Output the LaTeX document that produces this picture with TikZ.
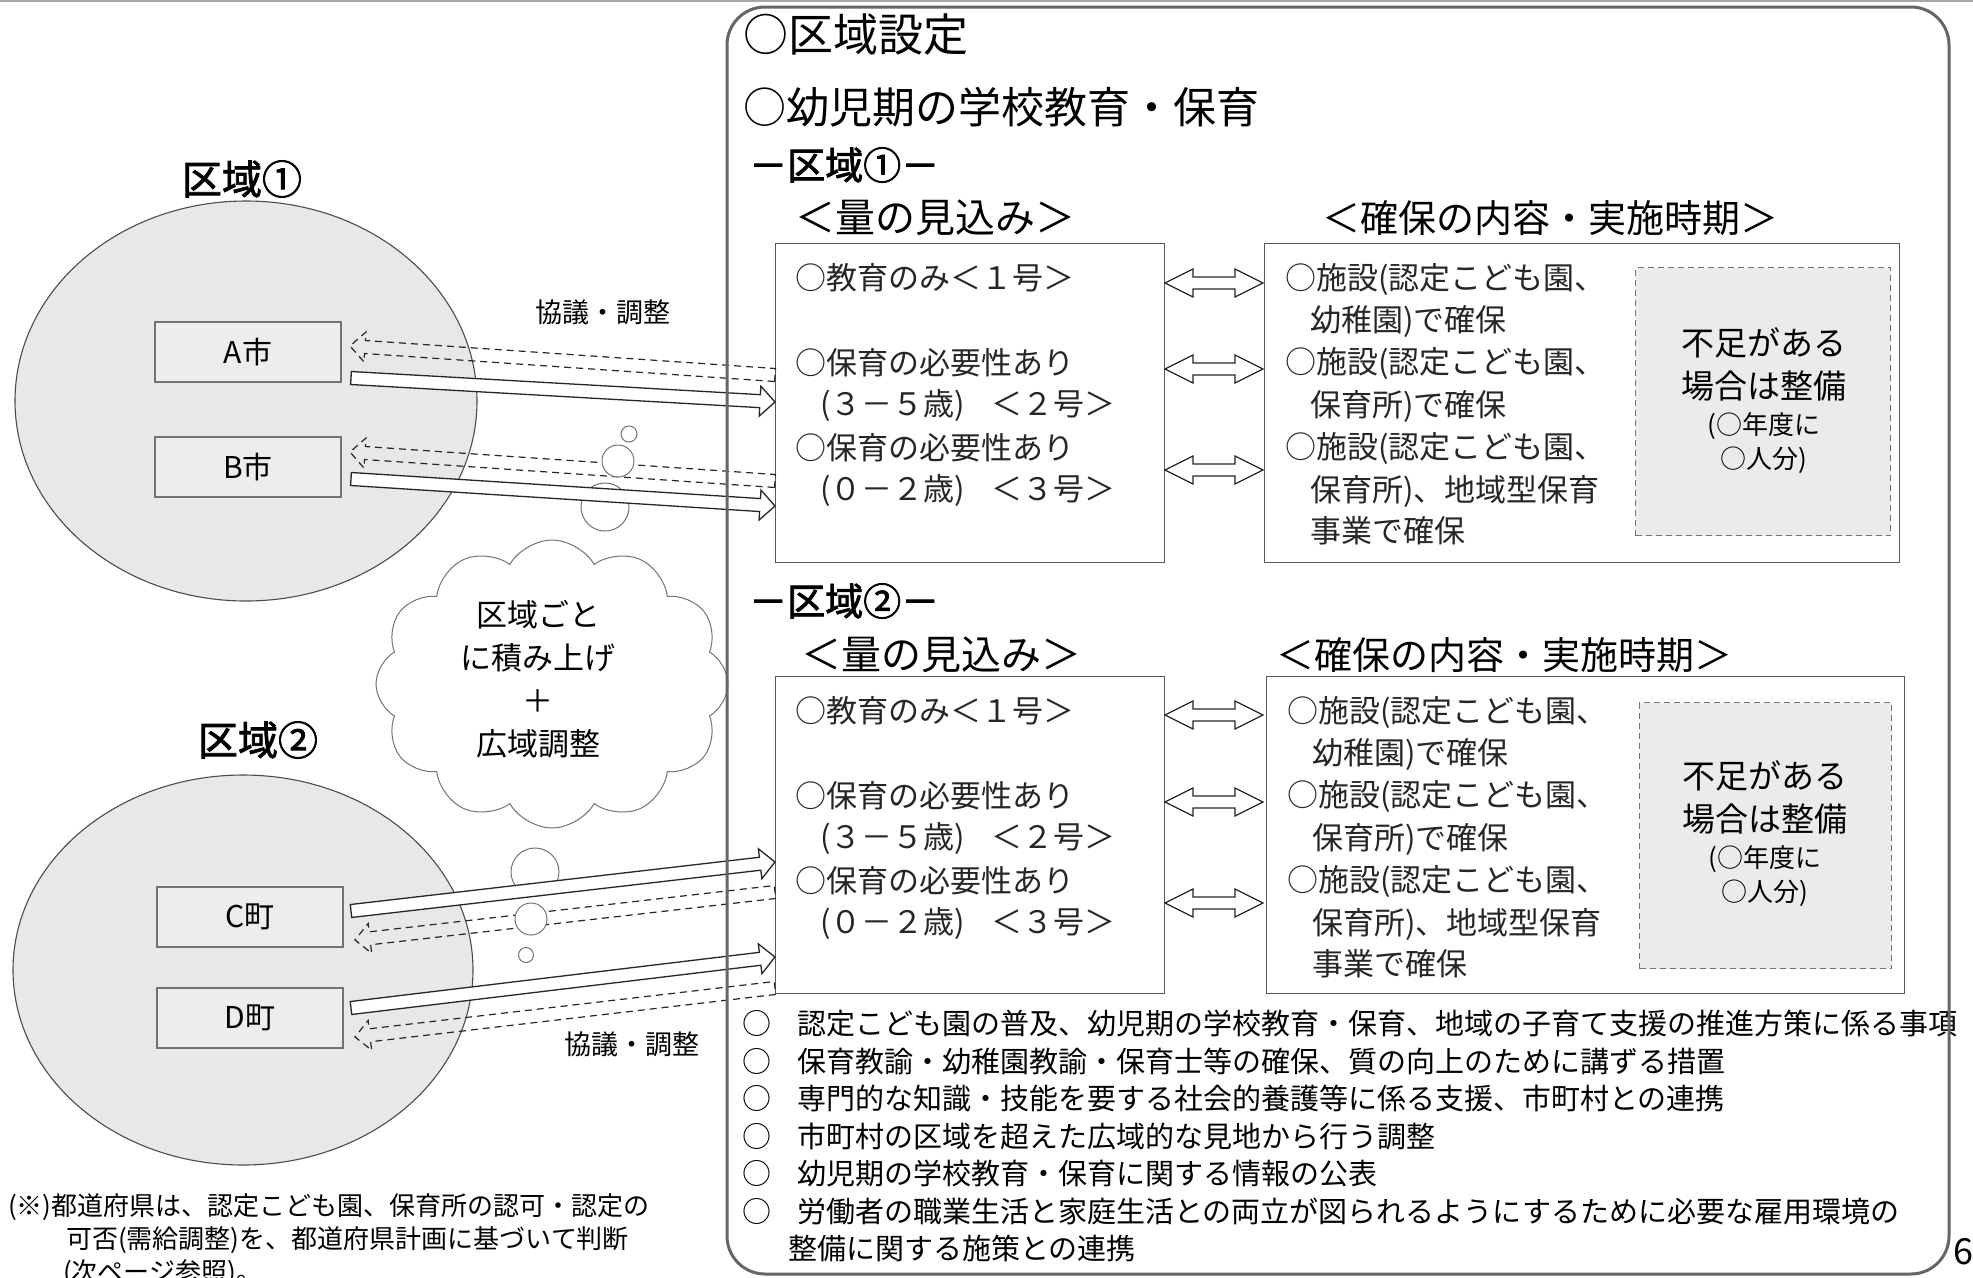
\documentclass[tikz,border=0pt]{standalone}
\usepackage{fontspec}
\setmainfont{Noto Sans CJK JP}[AutoFakeBold=2]
\usetikzlibrary{calc,shapes.geometric,shapes.symbols}
\newcommand\blkarrow[3]{%
  \coordinate (ba-r) at ($(#3)!15pt!(#2)$);
  \path[#1] ($(#2)!6.5pt!90:(#3)$) -- ($(ba-r)!6.5pt!90:(#3)$) -- ($(ba-r)!15pt!90:(#3)$) -- (#3)
    -- ($(ba-r)!15pt!-90:(#3)$) -- ($(ba-r)!6.5pt!-90:(#3)$) -- ($(#2)!6.5pt!-90:(#3)$) -- cycle;}
\newcommand\twoway[1]{%
  \path[solidarrow] (1165,#1) -- (1193,#1-14) -- (1193,#1-6) -- (1235,#1-6) -- (1235,#1-14) -- (1263,#1)
    -- (1235,#1+14) -- (1235,#1+6) -- (1193,#1+6) -- (1193,#1+14) -- cycle;}
\begin{document}
\begin{tikzpicture}[x=1pt,y=-1pt,
  every node/.style={inner sep=0pt},
  region/.style={ellipse, draw=black!70, line width=1.1pt, fill=black!9},
  citybox/.style={draw=black!55, line width=1.3pt, fill=black!7, minimum width=186pt, minimum height=60pt, font=\fontsize{30}{30}\selectfont},
  bigbox/.style={draw=black!65, line width=1.2pt, fill=white, anchor=north west},
  dashbox/.style={draw=black!55, line width=1pt, dash pattern=on 6pt off 4pt, fill=black!8, anchor=north west},
  solidarrow/.style={draw=black!85, fill=white, line width=1.3pt, line join=miter},
  dasharrow/.style={draw=black!85, line width=1.2pt, dash pattern=on 7pt off 5pt},
  bubble/.style={circle, draw=black!55, fill=white, line width=1pt},
  boxtxt/.style={anchor=west, font=\fontsize{31}{31}\selectfont, text=black!85},
  lacktxt/.style={font=\fontsize{33}{33}\selectfont},
  lacksub/.style={font=\fontsize{26}{26}\selectfont},
  listtxt/.style={anchor=west, font=\fontsize{29}{29}\selectfont},
  listmark/.style={font=\fontsize{29}{29}\selectfont},
  head/.style={anchor=west, font=\fontsize{40}{40}\selectfont},
  note/.style={anchor=west, font=\fontsize{26}{26}\selectfont},
  talk/.style={font=\fontsize{27}{27}\selectfont}
]
\useasboundingbox (0,0) rectangle (1973,1277);
\fill[white] (0,0) rectangle (1973,1277);
\draw[black!35, line width=1.5pt] (0,1) -- (1973,1);

% left regions
\node[region, minimum width=462pt, minimum height=400pt] (r1) at (246,401) {};
\node[region, minimum width=460pt, minimum height=390pt] (r2) at (243,970) {};
\node[font=\bfseries\fontsize{40}{40}\selectfont] (r1lbl) at (242,179) {区域①};
\node[font=\bfseries\fontsize{40}{40}\selectfont] (r2lbl) at (258,740) {区域②};

\node[citybox] (A) at (248,352) {A市};
\node[citybox] (B) at (248,467) {B市};
\node[citybox] (C) at (250,917) {C町};
\node[citybox] (D) at (250,1018) {D町};

% boxes of region 1 and 2
\node[bigbox, minimum width=389pt, minimum height=319pt] (q1) at (775,243) {};
\node[bigbox, minimum width=635pt, minimum height=319pt] (k1) at (1264,243) {};
\node[dashbox, minimum width=255pt, minimum height=268pt] (s1) at (1635,267) {};
\node[bigbox, minimum width=389pt, minimum height=317pt] (q2) at (775,676) {};
\node[bigbox, minimum width=638pt, minimum height=317pt] (k2) at (1266,676) {};
\node[dashbox, minimum width=252pt, minimum height=266pt] (s2) at (1639,702) {};

% connector end points
\coordinate (a-ds) at (775,375); \coordinate (a-dt) at (350,346);
\coordinate (a-ss) at (351,378); \coordinate (a-st) at (775,402);
\coordinate (b-ds) at (775,481); \coordinate (b-dt) at (350,452);
\coordinate (b-ss) at (351,479); \coordinate (b-st) at (775,506);
\coordinate (c-ss) at (351,911); \coordinate (c-st) at (775,862);
\coordinate (c-ds) at (775,892); \coordinate (c-dt) at (355,940);
\coordinate (d-ss) at (351,1008); \coordinate (d-st) at (775,957);
\coordinate (d-ds) at (775,988); \coordinate (d-dt) at (355,1037);

% dashed arrows back to municipalities
\blkarrow{dasharrow}{a-ds}{a-dt}
\blkarrow{dasharrow}{b-ds}{b-dt}
\blkarrow{dasharrow}{c-ds}{c-dt}
\blkarrow{dasharrow}{d-ds}{d-dt}

% thought bubbles
\node[bubble, minimum size=16pt] (u1) at (629,434) {};
\node[bubble, minimum size=32pt] (u2) at (618,461) {};
\node[bubble, minimum size=48pt] (u3) at (605,507) {};
\node[bubble, minimum size=48pt] (l3) at (535,872) {};
\node[bubble, minimum size=32pt] (l2) at (531,919) {};
\node[bubble, minimum size=15pt] (l1) at (526,955) {};

% solid arrows
\blkarrow{solidarrow}{a-ss}{a-st}
\blkarrow{solidarrow}{b-ss}{b-st}
\blkarrow{solidarrow}{c-ss}{c-st}
\blkarrow{solidarrow}{d-ss}{d-st}

% cloud
\node[cloud, cloud puffs=12, cloud puff arc=120, aspect=1.25, draw=black!55, fill=white, line width=1pt,
      minimum width=352pt, minimum height=288pt] (cloud) at (552,684) {};
\node[align=center, font=\fontsize{31}{43}\selectfont] (cloudtxt) at (538,679) {区域ごと\\に積み上げ\\＋\\広域調整};

\node[talk] (talk1) at (603,312) {協議・調整};
\node[talk] (talk2) at (632,1044) {協議・調整};

% footnote
\node[note] (n1) at (8,1207) {(※)都道府県は、認定こども園、保育所の認可・認定の};
\node[note] (n2) at (66,1240) {可否(需給調整)を、都道府県計画に基づいて判断};
\node[note] (n3) at (63,1273) {(次ページ参照)。};

% right panel headings
\node[anchor=west, font=\fontsize{45}{45}\selectfont] (h1) at (743,35) {○区域設定};
\node[anchor=west, font=\fontsize{43}{43}\selectfont] (h2) at (743,107) {○幼児期の学校教育・保育};
\node[anchor=west, font=\bfseries\fontsize{38}{38}\selectfont] (z1) at (749,165) {－区域①－};
\node[head] (m1) at (795,218) {＜量の見込み＞};
\node[anchor=west, font=\fontsize{38}{38}\selectfont] (p1) at (1322,218) {＜確保の内容・実施時期＞};
\node[anchor=west, font=\bfseries\fontsize{38}{38}\selectfont] (z2) at (749,601) {－区域②－};
\node[head] (m2) at (801,655) {＜量の見込み＞};
\node[anchor=west, font=\fontsize{38}{38}\selectfont] (p2) at (1276,655) {＜確保の内容・実施時期＞};

% region 1 contents
\node[boxtxt] at (795,278) {○教育のみ＜１号＞};
\node[boxtxt] at (795,363) {○保育の必要性あり};
\node[boxtxt] at (820,406) {(３－５歳)\hspace{26pt}＜２号＞};
\node[boxtxt] at (795,448) {○保育の必要性あり};
\node[boxtxt] at (820,491) {(０－２歳)\hspace{26pt}＜３号＞};

\node[boxtxt] at (1285,279) {○施設(認定こども園、};
\node[boxtxt] at (1310,321) {幼稚園)で確保};
\node[boxtxt] at (1285,363) {○施設(認定こども園、};
\node[boxtxt] at (1310,406) {保育所)で確保};
\node[boxtxt] at (1285,448) {○施設(認定こども園、};
\node[boxtxt] at (1310,491) {保育所)、地域型保育};
\node[boxtxt] at (1310,531) {事業で確保};

\node[lacktxt] at (1764,343) {不足がある};
\node[lacktxt] at (1764,386) {場合は整備};
\node[lacksub] at (1764,426) {(○年度に};
\node[lacksub] at (1764,460) {○人分)};

% region 2 contents
\node[boxtxt] at (795,711) {○教育のみ＜１号＞};
\node[boxtxt] at (795,796) {○保育の必要性あり};
\node[boxtxt] at (820,839) {(３－５歳)\hspace{26pt}＜２号＞};
\node[boxtxt] at (795,881) {○保育の必要性あり};
\node[boxtxt] at (820,924) {(０－２歳)\hspace{26pt}＜３号＞};

\node[boxtxt] at (1287,712) {○施設(認定こども園、};
\node[boxtxt] at (1312,754) {幼稚園)で確保};
\node[boxtxt] at (1287,796) {○施設(認定こども園、};
\node[boxtxt] at (1312,839) {保育所)で確保};
\node[boxtxt] at (1287,881) {○施設(認定こども園、};
\node[boxtxt] at (1312,924) {保育所)、地域型保育};
\node[boxtxt] at (1312,964) {事業で確保};

\node[lacktxt] at (1765,776) {不足がある};
\node[lacktxt] at (1765,819) {場合は整備};
\node[lacksub] at (1765,859) {(○年度に};
\node[lacksub] at (1765,893) {○人分)};

% two-way arrows
\twoway{283}
\twoway{369}
\twoway{470}
\twoway{715}
\twoway{802}
\twoway{903}

% list
\foreach \yy in {1023,1061,1098,1136,1173,1211} {\node[listmark] at (757,\yy) {○};}
\node[listtxt] at (797,1023) {認定こども園の普及、幼児期の学校教育・保育、地域の子育て支援の推進方策に係る事項};
\node[listtxt] at (797,1061) {保育教諭・幼稚園教諭・保育士等の確保、質の向上のために講ずる措置};
\node[listtxt] at (797,1098) {専門的な知識・技能を要する社会的養護等に係る支援、市町村との連携};
\node[listtxt] at (797,1136) {市町村の区域を超えた広域的な見地から行う調整};
\node[listtxt] at (797,1173) {幼児期の学校教育・保育に関する情報の公表};
\node[listtxt] at (797,1211) {労働者の職業生活と家庭生活との両立が図られるようにするために必要な雇用環境の};
\node[listtxt] at (788,1248) {整備に関する施策との連携};

% main panel frame
\draw[black!60, line width=3pt, rounded corners=38pt] (727,7) rectangle (1949,1274);
\node[anchor=west, font=\fontsize{36}{36}\selectfont] (pg) at (1953,1252) {6};
\end{tikzpicture}
\end{document}
